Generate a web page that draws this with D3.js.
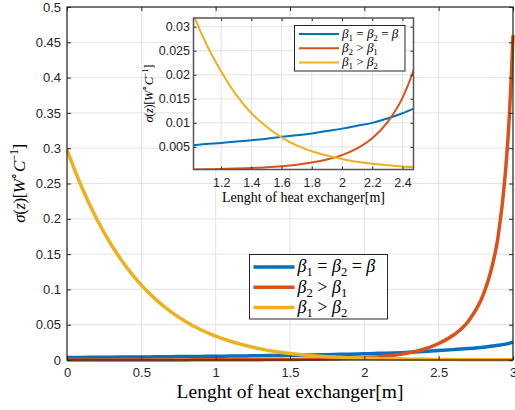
<!DOCTYPE html>
<html lang="en">
<head>
<meta charset="UTF-8">
<title>sigma(z) along the heat exchanger</title>
<script src="https://d3js.org/d3.v7.min.js"></script>
<style>
  body { margin: 0; background: #fff; }
</style>
</head>
<body>
<div id="chart"></div>
<script>
// length of heat exchanger [m]
var lengths = [0, 0.1, 0.2, 0.3, 0.4, 0.5, 0.6, 0.7, 0.8, 0.9, 1.0,
  1.1, 1.2, 1.3, 1.4, 1.5, 1.6, 1.7, 1.8, 1.9, 2.0,
  2.1, 2.2, 2.3, 2.4, 2.5, 2.6, 2.7, 2.8, 2.85, 2.9, 2.95, 2.975, 2.99, 3.0];

// beta1 = beta2 = beta
var sigmaEqual = [0.0036, 0.0037, 0.0039, 0.0040, 0.0042, 0.0043, 0.0045, 0.0047, 0.0049, 0.0051, 0.0053,
  0.0056, 0.0058, 0.0061, 0.0064, 0.0067, 0.0071, 0.0074, 0.0078, 0.0083, 0.0088,
  0.0094, 0.0100, 0.0109, 0.0120, 0.0133, 0.0147, 0.0163, 0.0182, 0.0194, 0.0208, 0.0225, 0.0236, 0.0245, 0.0252];

// beta2 > beta1
var sigmaB2 = [0.00002, 0.00003, 0.00004, 0.00005, 0.00006, 0.00008, 0.0001, 0.00013, 0.00017, 0.00022, 0.00028,
  0.00034, 0.00041, 0.0005, 0.00062, 0.00077, 0.00099, 0.0013, 0.00174, 0.00237, 0.0033,
  0.0047, 0.0068, 0.0101, 0.0152, 0.0234, 0.0354, 0.055, 0.0925, 0.125, 0.175, 0.268, 0.344, 0.407, 0.46];

// beta1 > beta2
var sigmaB1 = [0.2975, 0.2444, 0.1997, 0.1625, 0.1316, 0.1061, 0.0852, 0.0681, 0.0542, 0.0429, 0.0338,
  0.0265, 0.0207, 0.0158, 0.0120, 0.0092, 0.0070, 0.0053, 0.0041, 0.0032, 0.0025,
  0.0019, 0.0015, 0.0012, 0.00093, 0.00073, 0.00058, 0.00046, 0.00036, 0.00032, 0.00029, 0.00026, 0.00024, 0.00023, 0.00023];

var xTicks = [0, 0.5, 1, 1.5, 2, 2.5, 3];
var yTicks = [0, 0.05, 0.1, 0.15, 0.2, 0.25, 0.3, 0.35, 0.4, 0.45, 0.5];
var insetXTicks = [1.2, 1.4, 1.6, 1.8, 2, 2.2, 2.4];
var insetYTicks = [0.005, 0.01, 0.015, 0.02, 0.025, 0.03];

var colors = ["#0072bd", "#d95319", "#edb120"];

var series = [
  { values: sigmaEqual, label: [["β", "i"], ["1", "sub"], [" = "], ["β", "i"], ["2", "sub"], [" = "], ["β", "i"]] },
  { values: sigmaB2, label: [["β", "i"], ["2", "sub"], [" > "], ["β", "i"], ["1", "sub"]] },
  { values: sigmaB1, label: [["β", "i"], ["1", "sub"], [" > "], ["β", "i"], ["2", "sub"]] }
];

var yLabel = [["σ", "i"], ["("], ["z", "i"], [")[" ], ["W", "i"], ["∘", "sup"], ["C", "i"], ["−1", "sup"], ["]"]];

var width = 515, height = 410;
var serif = "'Liberation Serif', 'Times New Roman', serif";
var sans = "'Liberation Sans', Arial, sans-serif";
var fmt = function(d) { return String(+d.toFixed(4)); };

var svg = d3.select("#chart").append("svg")
  .attr("width", width)
  .attr("height", height)
  .style("background", "#fff");

// writes a little latex-ish label out of tspans
function mathText(text, parts, size) {
  var shift = 0;
  parts.forEach(function(p) {
    var kind = p[1];
    var small = kind === "sub" || kind === "sup";
    var target = kind === "sub" ? size * 0.22 : kind === "sup" ? -size * 0.4 : 0;
    var ts = text.append("tspan")
      .text(p[0])
      .attr("dy", target - shift)
      .style("font-size", (small ? size * 0.7 : size) + "px");
    if (kind === "i") ts.style("font-style", "italic");
    shift = target;
  });
}

function drawPanel(g, opt) {
  var x = d3.scaleLinear().domain(opt.xDomain).range([opt.left, opt.right]);
  var y = d3.scaleLinear().domain(opt.yDomain).range([opt.bottom, opt.top]);

  g.append("rect")
    .attr("x", opt.left).attr("y", opt.top)
    .attr("width", opt.right - opt.left).attr("height", opt.bottom - opt.top)
    .attr("fill", "#fff");

  // grid
  g.append("g").selectAll("line").data(opt.xTicks).enter().append("line")
    .attr("x1", function(d) { return x(d); }).attr("x2", function(d) { return x(d); })
    .attr("y1", opt.top).attr("y2", opt.bottom)
    .attr("stroke", "#e3e3e3").attr("stroke-width", 1);
  g.append("g").selectAll("line").data(opt.yTicks).enter().append("line")
    .attr("y1", function(d) { return y(d); }).attr("y2", function(d) { return y(d); })
    .attr("x1", opt.left).attr("x2", opt.right)
    .attr("stroke", "#e3e3e3").attr("stroke-width", 1);

  // curves
  var lines = g.append("g");
  if (opt.clip) {
    g.append("clipPath").attr("id", opt.clip).append("rect")
      .attr("x", opt.left).attr("y", opt.top)
      .attr("width", opt.right - opt.left).attr("height", opt.bottom - opt.top);
    lines.attr("clip-path", "url(#" + opt.clip + ")");
  }
  var line = d3.line()
    .x(function(d) { return x(d[0]); })
    .y(function(d) { return y(d[1]); })
    .curve(d3.curveMonotoneX);
  series.forEach(function(s, i) {
    lines.append("path")
      .datum(d3.zip(lengths, s.values))
      .attr("d", line)
      .attr("fill", "none")
      .attr("stroke", colors[i])
      .attr("stroke-width", opt.lineWidth)
      .attr("stroke-linejoin", "round");
  });

  // axes, ticks pointing in
  var ax = g.append("g").attr("transform", "translate(0," + opt.bottom + ")")
    .call(d3.axisBottom(x).tickValues(opt.xTicks).tickFormat(fmt)
      .tickSizeInner(-opt.tick).tickSizeOuter(0).tickPadding(opt.xPad));
  var ay = g.append("g").attr("transform", "translate(" + opt.left + ",0)")
    .call(d3.axisLeft(y).tickValues(opt.yTicks).tickFormat(fmt)
      .tickSizeInner(-opt.tick).tickSizeOuter(0).tickPadding(opt.yPad));
  var at = g.append("g").attr("transform", "translate(0," + opt.top + ")")
    .call(d3.axisTop(x).tickValues(opt.xTicks).tickFormat("")
      .tickSizeInner(-opt.tick).tickSizeOuter(0));
  var ar = g.append("g").attr("transform", "translate(" + opt.right + ",0)")
    .call(d3.axisRight(y).tickValues(opt.yTicks).tickFormat("")
      .tickSizeInner(-opt.tick).tickSizeOuter(0));
  [ax, ay, at, ar].forEach(function(a) {
    a.select(".domain").remove();
    a.selectAll(".tick line").attr("stroke", "#262626");
    a.selectAll("text").style("font-size", opt.fontSize + "px")
      .style("font-family", sans).attr("fill", "#262626");
  });

  g.append("rect")
    .attr("x", opt.left).attr("y", opt.top)
    .attr("width", opt.right - opt.left).attr("height", opt.bottom - opt.top)
    .attr("fill", "none").attr("stroke", opt.boxColor).attr("stroke-width", opt.boxWidth);

  // axis titles
  g.append("text")
    .attr("x", (opt.left + opt.right) / 2).attr("y", opt.xLabelY)
    .attr("text-anchor", "middle")
    .style("font-family", serif).style("font-size", opt.labelSize + "px").attr("fill", "#000")
    .text("Lenght of heat exchanger[m]");
  var yl = g.append("text")
    .attr("text-anchor", "middle")
    .style("font-family", serif).style("letter-spacing", opt.yLabelSpacing + "px").attr("fill", "#000")
    .attr("transform", "translate(" + opt.yLabelX + "," + (opt.top + opt.bottom) / 2 + ") rotate(-90)");
  mathText(yl, yLabel, opt.yLabelSize);

  // legend
  var lg = g.append("g");
  var L = opt.legend;
  lg.append("rect").attr("x", L.x).attr("y", L.y).attr("width", L.w).attr("height", L.h)
    .attr("fill", "#fff").attr("stroke", "#262626").attr("stroke-width", 1);
  series.forEach(function(s, i) {
    var cy = L.y + L.first + i * L.step;
    lg.append("line")
      .attr("x1", L.x + L.pad).attr("x2", L.x + L.pad + L.len)
      .attr("y1", cy).attr("y2", cy)
      .attr("stroke", colors[i]).attr("stroke-width", opt.lineWidth);
    var t = lg.append("text")
      .style("font-family", serif).attr("fill", "#000")
      .attr("x", L.x + L.pad + L.len + 3).attr("y", cy + L.size * 0.3);
    mathText(t, s.label, L.size);
  });
}

drawPanel(svg.append("g"), {
  xDomain: [0, 3], yDomain: [0, 0.5],
  left: 67, right: 513, top: 7, bottom: 360,
  xTicks: xTicks, yTicks: yTicks,
  tick: 4, xPad: 8, yPad: 6, fontSize: 13,
  lineWidth: 3.5, boxColor: "#262626", boxWidth: 1.2,
  labelSize: 19.5, xLabelY: 398,
  yLabelSize: 17, yLabelSpacing: -0.5, yLabelX: 24.5,
  legend: { x: 249.5, y: 254.5, w: 138, h: 64.5, pad: 4, len: 41, first: 12.5, step: 20.3, size: 18 }
});

drawPanel(svg.append("g"), {
  xDomain: [1.017, 2.473], yDomain: [0.0003, 0.0318],
  left: 193.5, right: 413.5, top: 18, bottom: 169.5,
  xTicks: insetXTicks, yTicks: insetYTicks, clip: "insetClip",
  tick: 3, xPad: 9, yPad: 3.5, fontSize: 12.5,
  lineWidth: 2, boxColor: "#555", boxWidth: 1.5,
  labelSize: 14, xLabelY: 202,
  yLabelSize: 12.5, yLabelSpacing: -0.4, yLabelX: 152.5,
  legend: { x: 294.5, y: 25.5, w: 110.5, h: 45.5, pad: 4.5, len: 40, first: 8.5, step: 14.2, size: 13 }
});
</script>
</body>
</html>
